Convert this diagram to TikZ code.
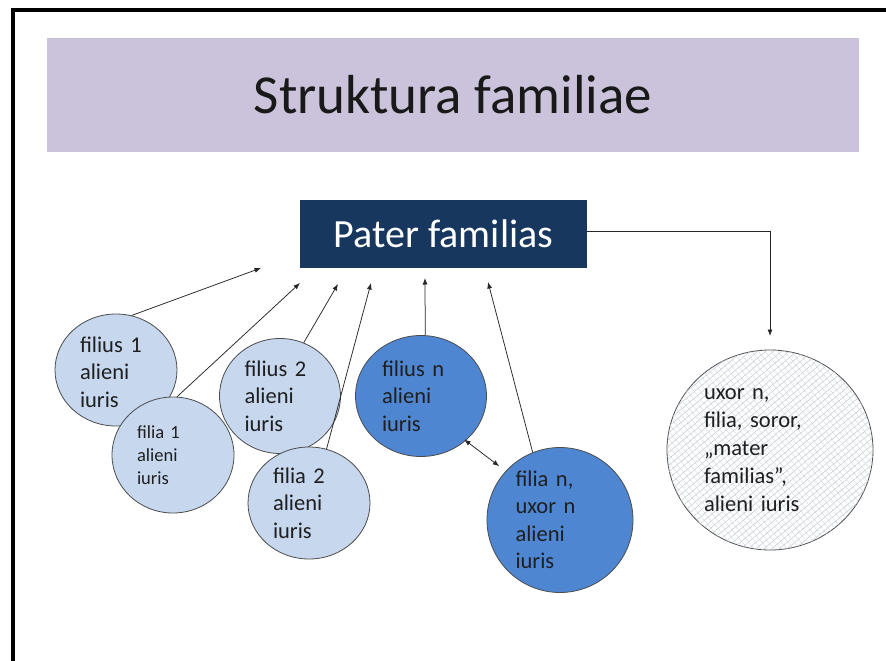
\documentclass[tikz,border=0pt]{standalone}
\usepackage{fontspec}
\setmainfont{Carlito}
\usetikzlibrary{shapes.geometric,arrows.meta,patterns.meta}
\definecolor{band}{HTML}{CBC3DB}
\definecolor{navy}{HTML}{17375E}
\definecolor{lightb}{HTML}{C6D7EE}
\definecolor{darkb}{HTML}{4F86D2}
\definecolor{hatch}{HTML}{BCC3CF}
\begin{document}
\frenchspacing
\begin{tikzpicture}[x=1pt,y=-1pt,
  titlebox/.style={fill=band, minimum width=812pt, minimum height=114pt, inner sep=0pt,
    text=black!90, font=\fontsize{55}{60}\selectfont},
  paterbox/.style={fill=navy, minimum width=287pt, minimum height=68pt, inner sep=0pt,
    text=white, font=\fontsize{40}{48}\selectfont},
  bubble/.style={ellipse, draw=black!70, line width=0.8pt, inner sep=0pt},
  lightbub/.style={bubble, fill=lightb},
  darkbub/.style={bubble, fill=darkb},
  hatchbub/.style={bubble, fill=white,
    postaction={pattern={Lines[angle=40,distance=5pt,line width=0.45pt]}, pattern color=hatch},
    postaction={pattern={Lines[angle=-50,distance=5pt,line width=0.35pt]}, pattern color=hatch!70}},
  ctext/.style={align=left, inner sep=0pt, text=black!88, font=\fontsize{22.5}{27.5}\selectfont},
  stext/.style={ctext, font=\fontsize{18.5}{23}\selectfont},
  arr/.style={draw=black!85, line width=0.75pt, -{Latex[length=6.5pt,width=5pt]}},
  dbl/.style={draw=black!85, line width=0.75pt, {Latex[length=6.5pt,width=5pt]}-{Latex[length=6.5pt,width=5pt]}}
]
\useasboundingbox (0,0) rectangle (886,661);
\fill[white] (0,0) rectangle (886,661);
\draw[line width=4pt, line join=miter] (13,661) -- (13,10) -- (886,10);

\node[titlebox] (title) at (453,95) {Struktura familiae};
\node[paterbox] (pf) at (443.5,234) {Pater familias};

% bubbles
\node[lightbub, minimum width=122pt, minimum height=112pt] (fi1) at (116,370) {};
\node[lightbub, minimum width=122pt, minimum height=116pt] (fa1) at (173,455) {};
\node[lightbub, minimum width=121pt, minimum height=115pt] (fi2) at (280,396) {};
\node[lightbub, minimum width=122pt, minimum height=112pt] (fa2) at (309,503) {};
\node[darkbub, minimum width=131pt, minimum height=121pt] (fin) at (421,396) {};
\node[darkbub, minimum width=146pt, minimum height=145pt] (fan) at (560,520) {};
\node[hatchbub, minimum width=206pt, minimum height=200pt] (ux) at (770,450) {};

% texts
\node[ctext, text width=72pt] (fi1t) at (116,372) {filius 1\\alieni\\iuris};
\node[stext, text width=72pt] (fa1t) at (fa1) {filia 1\\alieni\\iuris};
\node[ctext, text width=71pt] (fi2t) at (fi2) {filius 2\\alieni\\iuris};
\node[ctext, text width=72pt] (fa2t) at (fa2) {filia 2\\alieni\\iuris};
\node[ctext, text width=78pt] (fint) at (fin) {filius n\\alieni\\iuris};
\node[ctext, text width=89pt] (fant) at (fan) {filia n,\\uxor n\\alieni\\iuris};
\node[ctext, text width=132pt, font=\fontsize{22.5}{28}\selectfont] (uxt) at (ux) {uxor n,\\filia, soror,\\„mater\\familias”,\\alieni iuris};

% free ends of the arrows
\coordinate (e1) at (261,268);
\coordinate (e2) at (300,283);
\coordinate (e3) at (338,284);
\coordinate (e4) at (371,283);
\coordinate (e5) at (425,278);
\coordinate (e6) at (488,282);
\coordinate (e7) at (770,336);

\draw[arr] (fi1.74) -- (e1);
\draw[arr] (fa1.86) -- (e2);
\draw[arr] (fi2.66) -- (e3);
\draw[arr] (fa2.72) -- (e4);
\draw[arr] (fin.86) -- (e5);
\draw[arr] (fan.112) -- (e6);
\draw[dbl, shorten >=8pt, shorten <=-2pt] (fin.-45) -- (fan.138);
\draw[arr] ([yshift=3pt]pf.east) -| (e7);
\end{tikzpicture}
\end{document}
